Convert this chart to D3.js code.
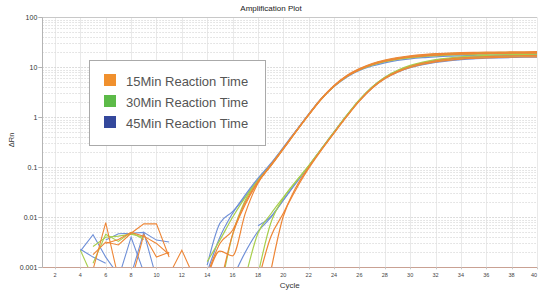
<!DOCTYPE html>
<html>
<head>
<meta charset="utf-8">
<script src="https://cdn.jsdelivr.net/npm/d3@7"></script>
<style>
  body { margin: 0; background: #fff; }
  svg { display: block; font-family: "Liberation Sans", Arial, sans-serif; }
</style>
</head>
<body>
<div id="wrapper"></div>
<script>
// Tick labels
const xTicks = [2, 4, 6, 8, 10, 12, 14, 16, 18, 20, 22, 24, 26, 28, 30, 32, 34, 36, 38, 40]
const yTicks = [0.001, 0.01, 0.1, 1, 10, 100]
const yTickLabels = ['0.001', '0.01', '0.1', '1', '10', '100']
const seriesNames = ['15Min Reaction Time', '30Min Reaction Time', '45Min Reaction Time']

// Amplification curves, ΔRn from the start cycle on
// 15Min (orange)
const orangeA1 = { start: 14, y: [0.0006, 0.0021, 0.0017, 0.012, 0.048, 0.105, 0.23, 0.51, 1.1, 2.28, 4.15, 6.55, 9.0, 11.4, 13.4, 15.0, 16.3, 17.2, 17.8, 18.3, 18.7, 19.0, 19.2, 19.4, 19.5, 19.6, 19.7] }
const orangeA2 = { start: 15, y: [0.0004, 0.0045, 0.018, 0.050, 0.11, 0.24, 0.53, 1.15, 2.4, 4.35, 6.85, 9.4, 11.9, 14.0, 15.7, 17.0, 18.0, 18.7, 19.2, 19.6, 19.9, 20.1, 20.2, 20.3, 20.4, 20.5] }
const orangeA3 = { start: 14, y: [0.0007, 0.0030, 0.0055, 0.020, 0.052, 0.108, 0.235, 0.52, 1.12, 2.33, 4.2, 6.6, 9.0, 11.3, 13.2, 14.7, 15.9, 16.8, 17.4, 17.9, 18.3, 18.6, 18.8, 19.0, 19.1, 19.2, 19.3] }
const orangeB1 = { start: 18, y: [0.0005, 0.0040, 0.012, 0.040, 0.100, 0.225, 0.49, 1.05, 2.15, 3.9, 6.1, 8.3, 10.4, 12.1, 13.5, 14.6, 15.4, 16.0, 16.4, 16.7, 16.9, 17.1, 17.2] }
const orangeB2 = { start: 19, y: [0.0008, 0.0105, 0.036, 0.095, 0.22, 0.48, 1.03, 2.1, 3.8, 5.9, 8.0, 9.9, 11.5, 12.8, 13.8, 14.6, 15.1, 15.5, 15.8, 16.0, 16.1, 16.2] }
// 30Min (green)
const greenA1 = { start: 14, y: [0.0013, 0.0035, 0.010, 0.025, 0.055, 0.11, 0.24, 0.52, 1.12, 2.32, 4.15, 6.5, 8.8, 11.0, 12.9, 14.4, 15.5, 16.4, 17.0, 17.5, 17.9, 18.2, 18.4, 18.6, 18.7, 18.8, 18.9] }
const greenA2 = { start: 15, y: [0.0003, 0.0045, 0.022, 0.052, 0.107, 0.235, 0.52, 1.13, 2.35, 4.25, 6.7, 9.2, 11.6, 13.6, 15.3, 16.6, 17.6, 18.3, 18.8, 19.2, 19.5, 19.7, 19.8, 19.9, 20.0, 20.1] }
const greenB1 = { start: 17, y: [0.0006, 0.0048, 0.0115, 0.025, 0.053, 0.108, 0.235, 0.51, 1.1, 2.25, 4.05, 6.35, 8.7, 10.9, 12.7, 14.2, 15.3, 16.2, 16.8, 17.3, 17.7, 18.0, 18.2, 18.3] }
const greenB2 = { start: 18, y: [0.0007, 0.0075, 0.024, 0.052, 0.106, 0.23, 0.50, 1.08, 2.2, 3.95, 6.15, 8.3, 10.3, 12.0, 13.3, 14.3, 15.1, 15.7, 16.1, 16.4, 16.6, 16.8, 16.9] }
// 45Min (blue)
const blueA1 = { start: 14, y: [0.0011, 0.0076, 0.013, 0.026, 0.057, 0.115, 0.245, 0.53, 1.14, 2.33, 4.1, 6.35, 8.6, 10.6, 12.3, 13.7, 14.8, 15.6, 16.2, 16.7, 17.0, 17.3, 17.5, 17.6, 17.7, 17.8, 17.9] }
const blueA2 = { start: 14, y: [0.0008, 0.0040, 0.012, 0.028, 0.060, 0.118, 0.25, 0.54, 1.16, 2.38, 4.25, 6.6, 8.9, 11.1, 13.0, 14.5, 15.7, 16.6, 17.3, 17.8, 18.2, 18.5, 18.7, 18.8, 18.9, 19.0, 19.1] }
const blueB1 = { start: 18, y: [0.0068, 0.0102, 0.022, 0.048, 0.104, 0.23, 0.50, 1.07, 2.15, 3.85, 5.95, 8.0, 9.8, 11.3, 12.5, 13.5, 14.2, 14.8, 15.2, 15.5, 15.7, 15.9, 16.0] }
const blueB2 = { start: 16, y: [0.0006, 0.0020, 0.0052, 0.0098, 0.022, 0.050, 0.106, 0.235, 0.51, 1.09, 2.2, 4.0, 6.25, 8.5, 10.6, 12.3, 13.7, 14.8, 15.6, 16.2, 16.7, 17.0, 17.3, 17.5, 17.6] }

// Baseline noise in the early cycles
const noiseO1 = { start: 5, y: [0.0009, 0.0078, 0.0006] }
const noiseO2 = { start: 5, y: [0.0018, 0.0032, 0.0028, 0.0048, 0.0074, 0.0074, 0.0016] }
const noiseO3 = { start: 6, y: [0.0030, 0.0036, 0.0050, 0.0042, 0.0030, 0.0018] }
const noiseO4 = { start: 8, y: [0.0005, 0.0045, 0.0016, 0.0020] }
const noiseO5 = { start: 11, y: [0.0007, 0.0022, 0.0006] }
const noiseG1 = { start: 4, y: [0.0022, 0.0006] }
const noiseG2 = { start: 5, y: [0.0012, 0.0046, 0.0033, 0.0050, 0.0036] }
const noiseG3 = { start: 5, y: [0.0026, 0.0040, 0.0042, 0.0046, 0.0040] }
const noiseB1 = { start: 4, y: [0.0023, 0.0016, 0.0012] }
const noiseB2 = { start: 4, y: [0.0021, 0.0045, 0.0016, 0.0007] }
const noiseB3 = { start: 6, y: [0.0035, 0.0047, 0.0048, 0.0050, 0.0006] }
const noiseB4 = { start: 8, y: [0.0007, 0.0050, 0.0035, 0.0032] }
const noiseB5 = { start: 7, y: [0.0006, 0.0040, 0.0008] }

const lineColors = { orange: '#ee8636', green: '#a8cf4e', blue: '#6f90d8' }
const swatchColors = ['#f0902e', '#5cba48', '#34489c']

// Draw order: blue under green under orange, like the original
const curveGroups = [
  { color: lineColors.blue, curves: [blueA1, blueA2, blueB1, blueB2], noise: [noiseB1, noiseB2, noiseB3, noiseB4, noiseB5] },
  { color: lineColors.green, curves: [greenA1, greenA2, greenB1, greenB2], noise: [noiseG1, noiseG2, noiseG3] },
  { color: lineColors.orange, curves: [orangeA1, orangeA2, orangeA3, orangeB1, orangeB2], noise: [noiseO1, noiseO2, noiseO3, noiseO4, noiseO5] },
]

// Dimensions
const width = 538
const height = 290
const margin = { top: 17.3, right: 1, bottom: 22.7, left: 42.3 }

const svg = d3.select('#wrapper')
  .append('svg')
  .attr('width', width)
  .attr('height', height)

// Scales
const xScale = d3.scaleLinear()
  .domain([1, 40])
  .range([margin.left, width - margin.right])

const yScale = d3.scaleLog()
  .domain([0.001, 100])
  .range([height - margin.bottom, margin.top])

const [plotLeft, plotRight] = xScale.range()
const [plotBottom, plotTop] = yScale.range()

// Grid
const grid = svg.append('g')

grid.selectAll('.vgrid')
  .data(xTicks)
  .join('line')
  .attr('x1', d => Math.round(xScale(d)) + 0.5)
  .attr('x2', d => Math.round(xScale(d)) + 0.5)
  .attr('y1', plotTop)
  .attr('y2', plotBottom)
  .attr('stroke', '#e9e9e9')

const minorY = []
for (let dec = 0.001; dec < 100; dec *= 10) {
  for (let m = 2; m <= 9; m++) minorY.push(dec * m)
}
grid.selectAll('.hgrid')
  .data(minorY.concat(yTicks.slice(1, -1)))
  .join('line')
  .attr('x1', plotLeft)
  .attr('x2', plotRight)
  .attr('y1', d => Math.round(yScale(d)) + 0.5)
  .attr('y2', d => Math.round(yScale(d)) + 0.5)
  .attr('stroke', d => yTicks.includes(d) ? '#d2d2d2' : '#dedede')
  .attr('stroke-dasharray', '1.5,1.5')

// Lines
svg.append('defs').append('clipPath')
  .attr('id', 'plot-clip')
  .append('rect')
  .attr('x', plotLeft)
  .attr('y', plotTop)
  .attr('width', plotRight - plotLeft)
  .attr('height', plotBottom - plotTop)

const toPoints = s => s.y.map((v, i) => [s.start + i, v])

const smoothLine = d3.line()
  .x(d => xScale(d[0]))
  .y(d => yScale(d[1]))
  .curve(d3.curveMonotoneX)

const straightLine = d3.line()
  .x(d => xScale(d[0]))
  .y(d => yScale(d[1]))

const lines = svg.append('g').attr('clip-path', 'url(#plot-clip)')

curveGroups.forEach(group => {
  lines.selectAll(null)
    .data(group.noise)
    .join('path')
    .attr('d', d => straightLine(toPoints(d)))
    .attr('fill', 'none')
    .attr('stroke', group.color)
    .attr('stroke-width', 1.1)
})
curveGroups.forEach(group => {
  lines.selectAll(null)
    .data(group.curves)
    .join('path')
    .attr('d', d => smoothLine(toPoints(d)))
    .attr('fill', 'none')
    .attr('stroke', group.color)
    .attr('stroke-width', 1.2)
})

// Axes frame
svg.append('line')
  .attr('x1', plotLeft).attr('x2', plotRight)
  .attr('y1', Math.round(plotTop) + 0.5).attr('y2', Math.round(plotTop) + 0.5)
  .attr('stroke', '#c8c8c8')

svg.append('line')
  .attr('x1', Math.round(plotLeft) + 0.5).attr('x2', Math.round(plotLeft) + 0.5)
  .attr('y1', plotTop).attr('y2', plotBottom)
  .attr('stroke', '#b4b4b4')

svg.append('line')
  .attr('x1', plotLeft).attr('x2', plotRight)
  .attr('y1', Math.round(plotBottom) + 0.5).attr('y2', Math.round(plotBottom) + 0.5)
  .attr('stroke', '#c9a193')

// Y ticks
const yAxis = svg.append('g')
yAxis.selectAll('line')
  .data(yTicks)
  .join('line')
  .attr('x1', plotLeft - 4)
  .attr('x2', plotLeft)
  .attr('y1', d => Math.round(yScale(d)) + 0.5)
  .attr('y2', d => Math.round(yScale(d)) + 0.5)
  .attr('stroke', '#b4b4b4')
yAxis.selectAll('text')
  .data(yTicks)
  .join('text')
  .attr('x', plotLeft - 5)
  .attr('y', d => yScale(d) + 2.4)
  .attr('text-anchor', 'end')
  .attr('font-size', 7)
  .attr('fill', '#333')
  .text((d, i) => yTickLabels[i])

// X ticks (the last label is pulled inside the window edge)
const xAxis = svg.append('g')
xAxis.selectAll('line')
  .data(xTicks)
  .join('line')
  .attr('x1', d => Math.round(xScale(d)) + 0.5)
  .attr('x2', d => Math.round(xScale(d)) + 0.5)
  .attr('y1', plotBottom)
  .attr('y2', plotBottom + 2)
  .attr('stroke', '#c8c8c8')
xAxis.selectAll('text')
  .data(xTicks)
  .join('text')
  .attr('x', d => Math.min(xScale(d), width - 1))
  .attr('y', plotBottom + 9.5)
  .attr('text-anchor', d => xScale(d) > width - 4 ? 'end' : 'middle')
  .attr('font-size', 5.5)
  .attr('fill', '#444')
  .text(d => d)

// Titles
svg.append('text')
  .attr('x', 271)
  .attr('y', 11)
  .attr('text-anchor', 'middle')
  .attr('font-size', 8)
  .attr('fill', '#222')
  .text('Amplification Plot')

svg.append('text')
  .attr('x', (plotLeft + plotRight) / 2)
  .attr('y', 288)
  .attr('text-anchor', 'middle')
  .attr('font-size', 8)
  .attr('fill', '#333')
  .text('Cycle')

svg.append('text')
  .attr('transform', 'translate(14,140) rotate(-90)')
  .attr('text-anchor', 'middle')
  .attr('font-size', 7.5)
  .attr('fill', '#333')
  .text('ΔRn')

// Legend
const legend = svg.append('g')
legend.append('rect')
  .attr('x', 89.5)
  .attr('y', 60.5)
  .attr('width', 176)
  .attr('height', 85)
  .attr('fill', '#fff')
  .attr('stroke', '#aaa')

const legendItems = legend.selectAll('.item')
  .data(seriesNames)
  .join('g')
  .attr('transform', (d, i) => `translate(104, ${74 + i * 21})`)

legendItems.append('rect')
  .attr('width', 12)
  .attr('height', 12)
  .attr('fill', (d, i) => swatchColors[i])

legendItems.append('text')
  .attr('x', 22)
  .attr('y', 11.5)
  .attr('font-size', 13)
  .attr('fill', '#555')
  .text(d => d)
</script>
</body>
</html>
